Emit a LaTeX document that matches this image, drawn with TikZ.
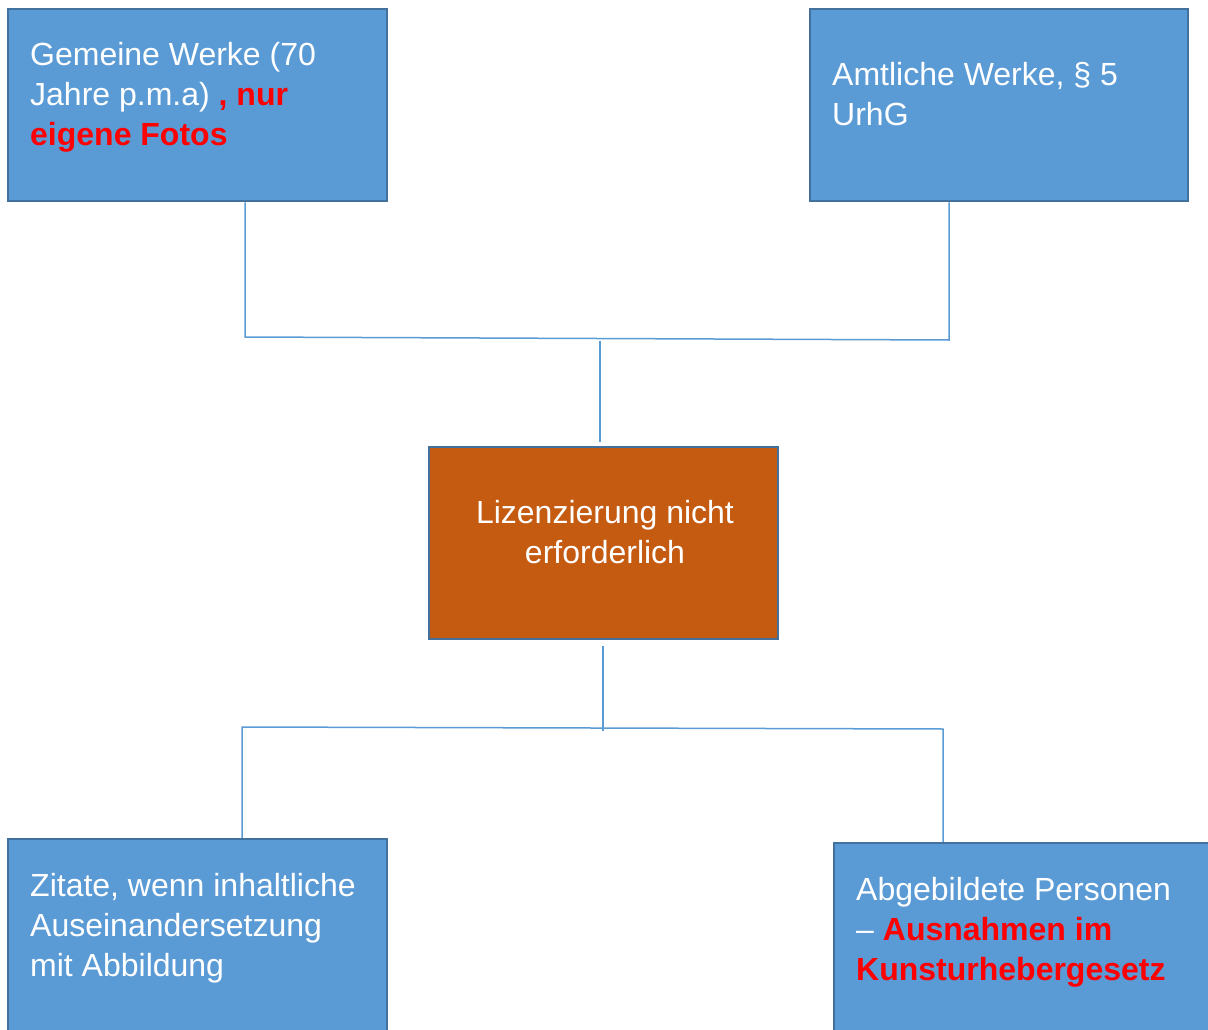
\documentclass[tikz,border=0pt]{standalone}
\usepackage{fontspec}
\setmainfont{Liberation Sans}
\usepackage{tikz}

\definecolor{boxblue}{HTML}{5B9BD5}
\definecolor{boxedge}{HTML}{41719C}
\definecolor{boxorange}{HTML}{C55A11}
\definecolor{hot}{HTML}{FF0000}

\begin{document}
\begin{tikzpicture}[x=1pt,y=-1pt,
  box/.style={draw=boxedge,line width=2.5pt,fill=boxblue,inner sep=0pt},
  label/.style={text=white,inner sep=0pt,align=left,anchor=base west,font=\fontsize{32}{40}\selectfont},
  link/.style={draw=boxblue,line width=1.5pt}]
\useasboundingbox (0,0) rectangle (1208,1030);

\node[box,minimum width=379pt,minimum height=192pt] (gemeine) at (197.5,105) {};
\node[box,minimum width=378pt,minimum height=192pt] (amtliche) at (999,105) {};
\node[box,fill=boxorange,minimum width=349pt,minimum height=192pt] (lizenz) at (603.5,543) {};
\node[box,minimum width=379pt,minimum height=201pt] (zitate) at (197.5,939.5) {};
\node[box,minimum width=386pt,minimum height=197pt] (personen) at (1027,941.5) {};

\node[label] (gemeinetext) at (30,146) {Gemeine Werke (70\\Jahre p.m.a) {\bfseries\color{hot}, nur}\\{\bfseries\color{hot}eigene Fotos}};
\node[label] (amtlichetext) at (832,126) {Amtliche Werke, § 5\\UrhG};
\node[label,align=center,anchor=base] (lizenztext) at (605,563) {Lizenzierung nicht\\erforderlich};
\node[label] (zitatetext) at (30,976) {Zitate, wenn inhaltliche\\Auseinandersetzung\\mit Abbildung};
\node[label] (personentext) at (856,980) {Abgebildete Personen\\– {\bfseries\color{hot}Ausnahmen im}\\{\bfseries\color{hot}Kunsturhebergesetz}};

\coordinate (topL) at (245,337);
\coordinate (topR) at (949,340);
\coordinate (topM) at (600,341);
\coordinate (botM) at (603,731);
\coordinate (botL) at (242,727);
\coordinate (botR) at (943,729);

\draw[link] (gemeine.south -| topL) -- (topL) -- (topR) -- (amtliche.south -| topR);
\draw[link] (topM) -- ([yshift=4pt]lizenz.north -| topM);
\draw[link] ([yshift=-6pt]lizenz.south -| botM) -- (botM);
\draw[link] (zitate.north -| botL) -- (botL) -- (botR) -- (personen.north -| botR);
\end{tikzpicture}
\end{document}
